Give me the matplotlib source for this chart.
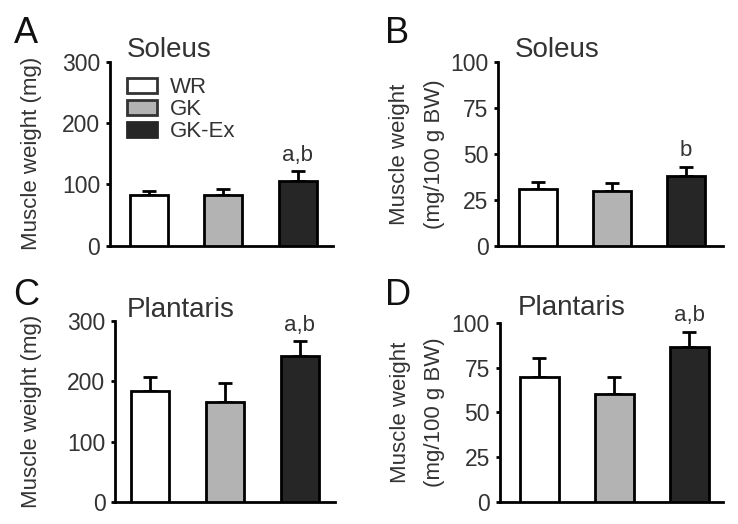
import matplotlib
matplotlib.use("Agg")
import matplotlib.pyplot as plt
from matplotlib.patches import Patch

plt.rcParams['font.family'] = ['Liberation Sans', 'DejaVu Sans']

# data
groups = ["WR", "GK", "GK-Ex"]
colors = ["#ffffff", "#b3b3b3", "#262626"]

soleus_mg = [82, 83, 106]
soleus_mg_err = [8, 10, 16]
soleus_bw = [31, 30, 38]
soleus_bw_err = [3.5, 4, 5]
plant_mg = [184, 166, 242]
plant_mg_err = [23, 31, 25]
plant_bw = [70, 60, 86.5]
plant_bw_err = [10.5, 10, 8.5]

txt = "#333333"

fig = plt.figure(figsize=(7.38, 5.24), dpi=100)

def panel(rect, vals, errs, ymax, yticks, ylabel, labx, title, titpos, sig, xlim):
    ax = fig.add_axes(rect)
    x = range(len(vals))
    ax.bar(x, vals, width=0.51, color=colors, edgecolor="black", linewidth=2, zorder=3)
    ax.errorbar(x, vals, yerr=[[0] * len(errs), errs], fmt="none", ecolor="black",
                elinewidth=2, capsize=4.7, capthick=2, zorder=2)
    ax.set_ylim(0, ymax)
    ax.set_xlim(*xlim)
    ax.set_yticks(yticks)
    ax.set_xticks([])
    for s in ["top", "right"]:
        ax.spines[s].set_visible(False)
    ax.spines["left"].set_linewidth(2)
    ax.spines["bottom"].set_linewidth(2)
    ax.tick_params(axis="y", direction="out", length=3, width=2, labelsize=16.5,
                   labelcolor=txt, pad=4)
    ax.set_ylabel(ylabel, fontsize=16, color=txt, linespacing=1.85)
    ax.yaxis.set_label_coords(labx, 0.5)
    ax.text(titpos[0], titpos[1], title, transform=ax.transAxes, fontsize=20,
            color=txt, ha="left", va="baseline")
    ax.annotate(sig, xy=(2, vals[2] + errs[2]), xytext=(0, 7.5), textcoords="offset points",
                ha="center", va="baseline", fontsize=16, color=txt)
    return ax

axA = panel([0.149, 0.531, 0.302, 0.351], soleus_mg, soleus_mg_err, 300,
            [0, 100, 200, 300], "Muscle weight (mg)", -0.305, "Soleus", (0.076, 1.028),
            "a,b", (-0.52, 2.47))
axB = panel([0.675, 0.531, 0.305, 0.350], soleus_bw, soleus_bw_err, 100,
            [0, 25, 50, 75, 100], "Muscle weight\n(mg/100 g BW)", -0.237, "Soleus",
            (0.074, 1.029), "b", (-0.54, 2.5))
axC = panel([0.156, 0.042, 0.298, 0.345], plant_mg, plant_mg_err, 300,
            [0, 100, 200, 300], "Muscle weight (mg)", -0.332, "Plantaris", (0.055, 1.025),
            "a,b", (-0.47, 2.47))
axD = panel([0.677, 0.042, 0.303, 0.342], plant_bw, plant_bw_err, 100,
            [0, 25, 50, 75, 100], "Muscle weight\n(mg/100 g BW)", -0.243, "Plantaris",
            (0.079, 1.043), "a,b", (-0.53, 2.45))

# panel letters
for lx, ly, lt in [(0.019, 0.918, "A"), (0.522, 0.918, "B"),
                   (0.018, 0.417, "C"), (0.522, 0.418, "D")]:
    fig.text(lx, ly, lt, fontsize=26, color="#111111", ha="left", va="baseline")

handles = [Patch(facecolor=colors[0], edgecolor="#333333", linewidth=2),
           Patch(facecolor=colors[1], edgecolor="#333333", linewidth=2),
           Patch(facecolor=colors[2], edgecolor=colors[2], linewidth=2)]
axA.legend(handles, groups, loc="upper left", bbox_to_anchor=(0.076, 0.917), frameon=False,
           fontsize=16, handlelength=1.35, handleheight=0.68, labelspacing=0.05,
           handletextpad=0.58, borderaxespad=0, borderpad=0, labelcolor=txt)

fig.savefig("out.png", dpi=100)
